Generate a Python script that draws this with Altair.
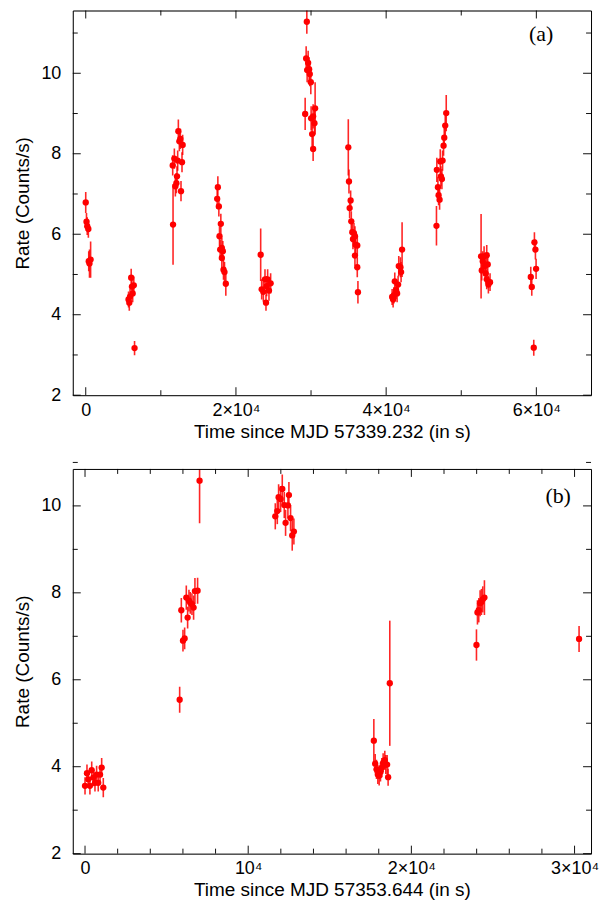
import altair as alt
import pandas as pd

# ---------------- Panel (a) data ----------------
a_time = [0, 100, 200, 350, 400, 500, 650,
          5700, 5800, 5900, 6050, 6150, 6250, 6400, 6500,
          11625, 11580, 11800, 11934, 12067, 12155, 12243, 12332, 12464, 12597, 12685, 12818, 12906,
          17592, 17503, 17724, 17989, 17813, 17901, 18122, 18255, 18343, 18476, 18652, 18122,
          23293, 23426, 23647, 23868, 24001, 24089, 24222, 24398, 24619,
          29437, 29349, 29614, 29481, 29747, 29835, 29968, 29216, 30012, 30277, 30542, 30454, 30144, 30277,
          34961, 35050, 35271, 35138, 35359, 35492, 35713, 35580, 35845, 35934, 36155, 35845, 36155, 36243,
          40796, 40928, 41017, 41149, 41326, 41459, 41591, 41680, 41901, 41989, 42122,
          46700, 46750, 46895, 46983, 47116, 47204, 47293, 47425, 47514, 47646, 47735, 47867, 48000,
          52641, 52730, 52862, 53039, 53172, 53393, 53260, 53525, 53393, 53614, 53834,
          59257, 59390, 59743, 59876, 59964, 59655]
a_rate = [6.79, 6.31, 6.20, 6.13, 5.33, 5.27, 5.37,
          4.38, 4.30, 4.45, 4.92, 4.70, 4.53, 4.73, 3.17,
          6.24, 7.71, 7.88, 7.19, 7.27, 7.44, 7.83, 8.56, 8.31, 8.37, 7.07, 7.79, 8.22,
          7.17, 6.88, 6.69, 6.26, 5.95, 5.62, 5.66, 5.58, 5.12, 5.06, 4.77, 5.41,
          5.49, 4.63, 4.57, 4.88, 4.30, 4.71, 4.88, 4.60, 4.78,
          11.28, 10.37, 10.26, 10.08, 10.10, 9.98, 9.78, 8.99, 8.88, 8.93, 9.13, 8.76, 8.49, 8.12,
          8.16, 7.31, 6.84, 6.65, 6.32, 6.05, 6.03, 5.88, 5.95, 5.74, 5.72, 5.47, 5.18, 4.56,
          4.44, 4.38, 4.48, 4.83, 4.61, 4.53, 4.75, 5.21, 5.18, 5.06, 5.62,
          6.21, 7.60, 7.17, 6.97, 6.86, 7.81, 7.44, 7.37, 7.83, 8.20, 8.40, 8.70, 9.01,
          5.45, 5.10, 5.33, 5.45, 5.21, 5.48, 5.02, 5.25, 4.88, 4.75, 4.81,
          4.94, 4.69, 5.80, 5.62, 5.14, 3.18]
a_err = [0.26, 0.22, 0.22, 0.22, 0.25, 0.35, 0.45,
         0.20, 0.20, 0.20, 0.22, 0.22, 0.22, 0.22, 0.18,
         1.00, 0.25, 0.25, 0.25, 0.25, 0.25, 0.25, 0.29, 0.25, 0.25, 0.25, 0.25, 0.25,
         0.27, 0.25, 0.25, 0.25, 0.25, 0.25, 0.25, 0.25, 0.25, 0.25, 0.30, 0.25,
         0.65, 0.25, 0.25, 0.25, 0.20, 0.25, 0.25, 0.25, 0.25,
         0.30, 0.30, 0.30, 0.30, 0.30, 0.30, 0.30, 0.40, 0.30, 0.30, 0.65, 0.30, 0.30, 0.30,
         0.70, 0.30, 0.25, 0.25, 0.25, 0.25, 0.25, 0.25, 0.25, 0.25, 0.25, 0.25, 0.25, 0.28,
         0.20, 0.20, 0.20, 0.22, 0.22, 0.22, 0.22, 0.25, 0.25, 0.25, 0.68,
         0.49, 0.30, 0.25, 0.25, 0.25, 0.30, 0.25, 0.25, 0.25, 0.25, 0.25, 0.25, 0.45,
         1.05, 0.25, 0.25, 0.25, 0.25, 0.25, 0.25, 0.25, 0.25, 0.22, 0.22,
         0.25, 0.22, 0.25, 0.25, 0.25, 0.20]

# ---------------- Panel (b) data ----------------
b_time = [0, 120, 200, 300, 410, 510, 610, 710, 810, 920, 1020, 1120,
          5800, 5902, 6003, 6105, 6207, 6288, 6370, 6451, 6553, 6654, 6736, 6899, 7021,
          11660, 11783, 11864, 11986, 12088, 12210, 12291, 12434, 12495, 12597, 12698, 12800,
          17700, 17782, 17863, 17945, 18026, 18107, 18189, 18270, 18372, 18433, 18514, 18575, 18677,
          23989, 24050, 24131, 24212, 24294, 24375, 24477,
          30277]
b_rate = [3.56, 3.85, 3.71, 3.56, 3.92, 3.75, 3.63, 3.82, 3.63, 3.82, 3.98, 3.52,
          5.54, 7.60, 6.90, 6.95, 7.89, 7.43, 7.82, 7.77, 7.74, 7.66, 8.04, 8.05, 10.58,
          9.76, 9.88, 10.20, 10.16, 10.39, 10.02, 9.61, 10.01, 10.25, 9.72, 9.32, 9.41,
          4.60, 4.07, 3.94, 3.82, 3.79, 3.88, 3.98, 4.09, 4.15, 4.05, 4.05, 3.76, 5.92,
          6.80, 7.55, 7.60, 7.76, 7.79, 7.85, 7.89,
          6.94]
b_err = [0.20, 0.20, 0.20, 0.20, 0.20, 0.20, 0.20, 0.20, 0.20, 0.20, 0.22, 0.22,
         0.30, 0.28, 0.25, 0.25, 0.28, 0.25, 0.25, 0.25, 0.25, 0.28, 0.30, 0.30, 0.98,
         0.30, 0.30, 0.30, 0.30, 0.33, 0.30, 0.30, 0.30, 0.30, 0.30, 0.35, 0.30,
         0.50, 0.22, 0.22, 0.22, 0.22, 0.22, 0.22, 0.22, 0.22, 0.22, 0.22, 0.20, 1.44,
         0.36, 0.28, 0.28, 0.30, 0.30, 0.30, 0.40,
         0.30]

# ---------------- axes / ticks ----------------
a_xdomain = [-1725, 67280]
a_ydomain = [2, 11.56]
a_xmajor = [0, 20000, 40000, 60000]
a_xminor = [10000, 30000, 50000]
b_xdomain = [-750, 31010]
b_ydomain = [2, 10.85]
b_xmajor = [0, 10000, 20000, 30000]
b_xminor = [2000, 4000, 6000, 8000, 12000, 14000, 16000, 18000, 22000, 24000, 26000, 28000]
y_major = [2, 4, 6, 8, 10]
y_minor = [3, 5, 7, 9, 11]

a_xlabel = "datum.value == 0 ? '0' : (datum.value / 10000) + '×10⁴'"
b_xlabel = ("datum.value == 0 ? '0' : datum.value == 10000 ? '10⁴' : "
            "(datum.value / 10000) + '×10⁴'")

RED = "#ff0000"
TICK = "#111111"
FRAME = "#000000"
SANS = "Liberation Sans"
W, H = 520, 386
MAJ, MIN = 8, 5


def main_axis(orient, values, title, label_expr, lab_pad, tit_pad):
    kw = dict(orient=orient, values=values, ticks=False, domain=True,
              domainColor=FRAME, domainWidth=1, grid=False,
              labelFont=SANS, labelFontSize=18, labelColor="black",
              labelPadding=lab_pad, labelFlush=False, labelOverlap=False,
              title=title, titleFont=SANS, titleFontSize=19, titleFontWeight="normal",
              titleColor="black", titlePadding=tit_pad, zindex=2)
    if label_expr is not None:
        kw["labelExpr"] = label_expr
    return alt.Axis(**kw)


def frame_axis(orient):
    return alt.Axis(orient=orient, ticks=False, labels=False, grid=False, domain=True,
                    domainColor=FRAME, domainWidth=1, title=None, zindex=2)


def tick_layers(values, scale, channel, length):
    df = pd.DataFrame({"v": values})
    base = alt.Chart(df).mark_rule(color=TICK, strokeWidth=1)
    layers = []
    if channel == "x":
        enc = alt.X("v:Q", scale=scale, axis=None)
        layers.append(base.encode(x=enc, y=alt.value(H - length), y2=alt.value(H)))
        layers.append(base.encode(x=enc, y=alt.value(0), y2=alt.value(length)))
    else:
        enc = alt.Y("v:Q", scale=scale, axis=None)
        layers.append(base.encode(y=enc, x=alt.value(0), x2=alt.value(length)))
        layers.append(base.encode(y=enc, x=alt.value(W - length), x2=alt.value(W)))
    return layers


def panel(t, rate, err, xdom, ydom, xmajor, xminor, xtitle, xexpr, tag, tagx, tagy):
    df = pd.DataFrame({"t": t, "rate": rate, "err": err})
    df["lo"] = df["rate"] - df["err"]
    df["hi"] = df["rate"] + df["err"]
    xs = alt.Scale(domain=xdom, nice=False, zero=False)
    ys = alt.Scale(domain=ydom, nice=False, zero=False)
    base = alt.Chart(df)

    bars = base.mark_rule(color=RED, strokeWidth=1.6, opacity=0.85, clip=True).encode(
        x=alt.X("t:Q", scale=xs, axis=main_axis("bottom", xmajor, xtitle, xexpr, 6, 3)),
        y=alt.Y("lo:Q", scale=ys,
                axis=main_axis("left", y_major, "Rate (Counts/s)", None, 12, 8)),
        y2="hi:Q",
    )
    pts = base.mark_circle(color=RED, opacity=1, size=40, clip=True).encode(
        x=alt.X("t:Q", scale=xs, axis=frame_axis("top")),
        y=alt.Y("rate:Q", scale=ys, axis=frame_axis("right")),
    )
    ticks = (tick_layers(xmajor, xs, "x", MAJ) + tick_layers(xminor, xs, "x", MIN)
             + tick_layers(y_major, ys, "y", MAJ) + tick_layers(y_minor, ys, "y", MIN))
    label = alt.Chart(pd.DataFrame({"tag": [tag]})).mark_text(
        font="Liberation Serif", fontSize=22, color="black", align="center", baseline="middle"
    ).encode(text="tag:N", x=alt.value(tagx), y=alt.value(tagy))

    return alt.layer(bars, pts, *ticks, label).resolve_axis(
        x="independent", y="independent"
    ).properties(width=W, height=H)


pa = panel(a_time, a_rate, a_err, a_xdomain, a_ydomain, a_xmajor, a_xminor,
           "Time since MJD 57339.232 (in s)", a_xlabel, "(a)", 470, 24)
pb = panel(b_time, b_rate, b_err, b_xdomain, b_ydomain, b_xmajor, b_xminor,
           "Time since MJD 57353.644 (in s)", b_xlabel, "(b)", 487, 27)

chart = alt.vconcat(pa, pb, spacing=74, bounds="flush").properties(
    padding={"left": 5, "top": 0, "right": 0, "bottom": 0}
).configure_view(stroke="#000000", strokeWidth=1).configure(background="white")

chart.save("out.html", embed_options={"renderer": "svg", "actions": False})
